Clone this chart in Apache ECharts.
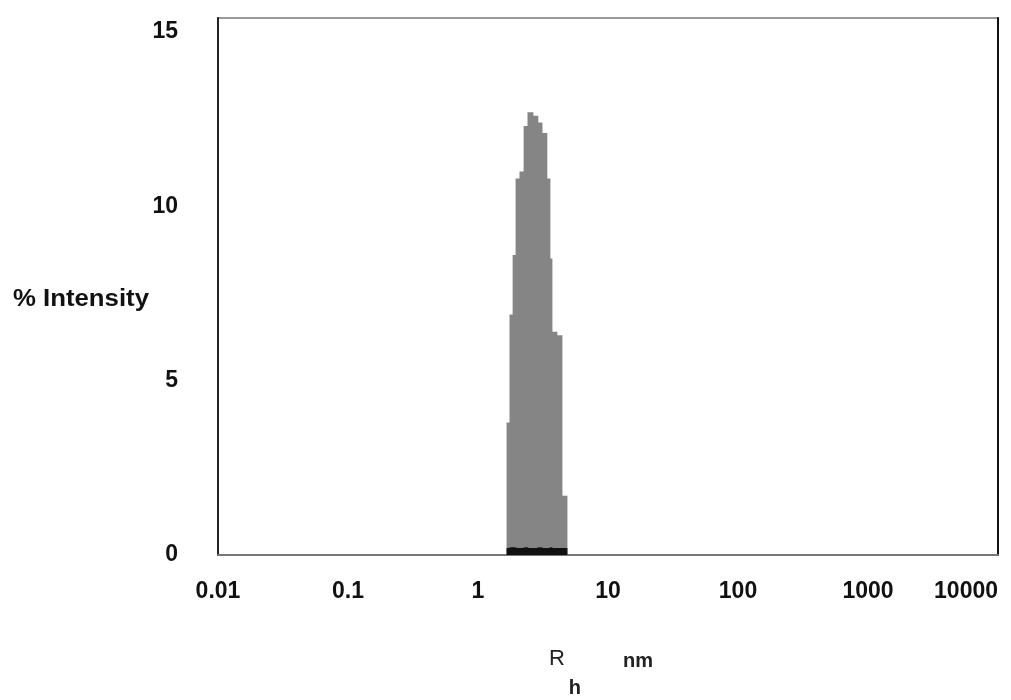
<!DOCTYPE html>
<html>
<head>
<meta charset="utf-8">
<script src="https://cdn.jsdelivr.net/npm/echarts@6/dist/echarts.min.js"></script>
<style>
html,body{margin:0;padding:0;background:#fff;}
#chart{width:1011px;height:700px;}
</style>
</head>
<body>
<div id="chart"></div>
<script>
// Histogram bins (R_h in nm) and % intensity
const binStart = [1.67, 1.76, 1.86, 1.96, 2.10, 2.26, 2.42, 2.65, 2.89, 3.11, 3.39, 3.58, 3.71, 4.05, 4.43];
const binEnd   = [1.76, 1.86, 1.96, 2.10, 2.26, 2.42, 2.65, 2.89, 3.11, 3.39, 3.58, 3.71, 4.05, 4.43, 4.84];
const intensity = [3.8, 6.9, 8.6, 10.8, 11.0, 12.3, 12.7, 12.6, 12.4, 12.1, 10.8, 8.5, 6.4, 6.3, 1.7];
// dark baseline band (second trace)
const baseIntensity = [0.2, 0.22, 0.22, 0.2, 0.2, 0.22, 0.2, 0.2, 0.22, 0.2, 0.2, 0.22, 0.2, 0.2, 0.2];

const xTicks = [0.01, 0.1, 1, 10, 100, 1000, 10000];
const yTicks = [0, 5, 10, 15];

const chart = echarts.init(document.getElementById('chart'), null, {renderer: 'canvas'});

function rectItem(color) {
  return function (params, api) {
    const p0 = api.coord([api.value(0), api.value(2)]);
    const p1 = api.coord([api.value(1), 0]);
    return {
      type: 'rect',
      shape: {x: p0[0] - 0.4, y: p0[1], width: p1[0] - p0[0] + 0.8, height: p1[1] - p0[1]},
      style: {fill: color}
    };
  };
}

const FONT = "'Liberation Sans', Arial, sans-serif";
const labelFont = {fontFamily: FONT, fontWeight: 'bold', fontSize: 23, color: '#111'};

chart.setOption({
  animation: false,
  backgroundColor: '#fff',
  grid: {left: 218, right: 13, top: 18, bottom: 145, outerBoundsMode: 'none', containLabel: false,
         show: true, borderColor: '#999', borderWidth: 2, backgroundColor: 'transparent'},
  xAxis: [{
    type: 'log', logBase: 10, min: 0.01, max: 10000,
    position: 'bottom',
    axisLine: {show: true, lineStyle: {color: '#777', width: 2}},
    axisTick: {show: false},
    splitLine: {show: false},
    axisLabel: Object.assign({margin: 25, alignMaxLabel: 'right', formatter: v => (xTicks.indexOf(v) >= 0 ? String(v) : '')}, labelFont),
    name: '{r|R}{h|h}{g|}{nm|nm}',
    nameLocation: 'middle',
    nameGap: 93,
    nameTextStyle: {
      padding: [0, 14, 0, 0],
      rich: {
        r: {fontFamily: FONT, fontSize: 22, color: '#222', verticalAlign: 'top', lineHeight: 50},
        h: {fontFamily: FONT, fontWeight: 'bold', fontSize: 20, color: '#222', verticalAlign: 'bottom', lineHeight: 50, padding: [0, 0, 0, 4]},
        g: {width: 42},
        nm: {fontFamily: FONT, fontWeight: 'bold', fontSize: 20, color: '#222', verticalAlign: 'top', lineHeight: 50, padding: [3, 0, 0, 0]}
      }
    }
  }],
  yAxis: [{
    type: 'value', min: 0, max: 15.4, interval: 5,
    axisLine: {show: true, lineStyle: {color: '#222', width: 2}},
    axisTick: {show: false},
    splitLine: {show: false},
    axisLabel: Object.assign({margin: 40, showMaxLabel: false, formatter: v => (yTicks.indexOf(v) >= 0 ? String(v) : '')}, labelFont)
  }, {
    type: 'value', min: 0, max: 15.4, position: 'right',
    axisLine: {show: true, lineStyle: {color: '#111', width: 2}},
    axisTick: {show: false}, axisLabel: {show: false}, splitLine: {show: false}
  }],
  graphic: [{
    type: 'text',
    left: 13, top: 288,
    scaleX: 1.12,
    style: {text: '% Intensity', fontFamily: FONT, fontWeight: 'bold', fontSize: 23, fill: '#111'}
  }],
  series: [{
    type: 'custom',
    renderItem: rectItem('#858585'),
    encode: {x: [0, 1], y: 2},
    data: binStart.map((s, i) => [s, binEnd[i], intensity[i]])
  }, {
    type: 'custom',
    renderItem: rectItem('#111'),
    encode: {x: [0, 1], y: 2},
    data: binStart.map((s, i) => [s, binEnd[i], baseIntensity[i]])
  }]
});
</script>
</body>
</html>
